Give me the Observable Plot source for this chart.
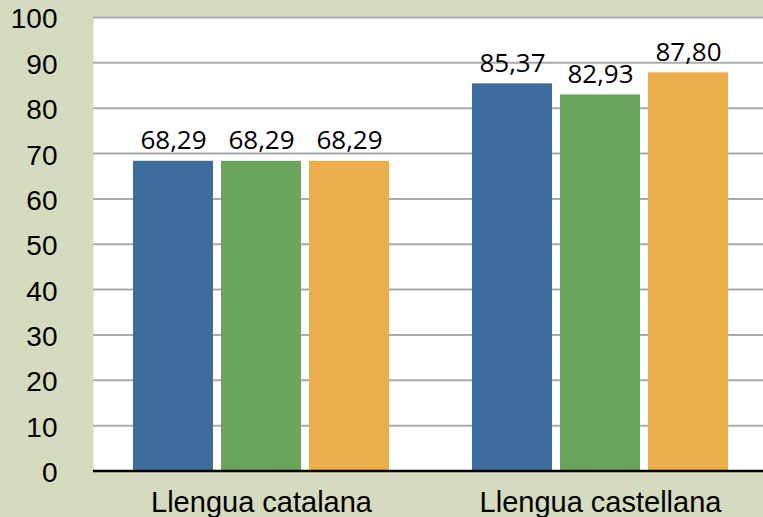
<!DOCTYPE html>
<html>
<head>
<meta charset="utf-8">
<script src="https://cdn.jsdelivr.net/npm/d3@7"></script>
<script src="https://cdn.jsdelivr.net/npm/@observablehq/plot@0.6"></script>
<style>
  html, body { margin: 0; padding: 0; background: #d5dbbf; }
  #chart svg { display: block; }
</style>
</head>
<body>
<div id="chart"></div>
<script>
const categories = ["Llengua catalana", "Llengua castellana"];
const seriesNames = ["Sèrie 1", "Sèrie 2", "Sèrie 3"];
const series1 = [68.29, 85.37];
const series2 = [68.29, 82.93];
const series3 = [68.29, 87.80];
const yTicks = [0, 10, 20, 30, 40, 50, 60, 70, 80, 90, 100];
const colors = ["#3d6b9b", "#6ba45b", "#ecae4b"];

const allSeries = [series1, series2, series3];
const rows = allSeries.flatMap((vals, s) =>
  categories.map((c, i) => ({category: c, series: seriesNames[s], value: vals[i]}))
);
const fmt = v => v.toFixed(2).replace(".", ",");

const barW = 80, gap = 8;
const step = barW + gap;
const marks = [
  Plot.frame({fill: "white", stroke: null}),
  Plot.ruleY(yTicks.filter(t => t > 0), {stroke: "#ababab", strokeWidth: 2})
];
seriesNames.forEach((name, s) => {
  const data = rows.filter(d => d.series === name);
  marks.push(Plot.barY(data, {
    x: "category", y: "value", fill: colors[s],
    insetLeft: s * step, insetRight: (2 - s) * step
  }));
  marks.push(Plot.text(data, {
    x: "category", y: "value", text: d => fmt(d.value),
    dx: (s - 1) * step, dy: -12, lineAnchor: "bottom",
    fontFamily: "'Open Sans'", fontSize: 26, fill: "#000"
  }));
});
marks.push(Plot.ruleY([0], {stroke: "#000", strokeWidth: 2.5}));
marks.push(Plot.axisY({ticks: yTicks, tickSize: 0, tickPadding: 36, fontSize: 28, dy: 2, fill: "#000"}));
marks.push(Plot.axisX({tickSize: 0, tickPadding: 20, fontSize: 29, fill: "#000"}));

const chart = Plot.plot({
  width: 763,
  height: 517,
  marginLeft: 93,
  marginRight: 0,
  marginTop: 17,
  marginBottom: 46.5,
  style: {background: "#d5dbbf", fontFamily: "'Liberation Sans', Arial, sans-serif", overflow: "visible"},
  x: {domain: categories, paddingInner: 0.245, paddingOuter: 0.109, align: 0.53, label: null},
  y: {domain: [0, 100], label: null},
  marks
});
document.getElementById("chart").appendChild(chart);
</script>
</body>
</html>
